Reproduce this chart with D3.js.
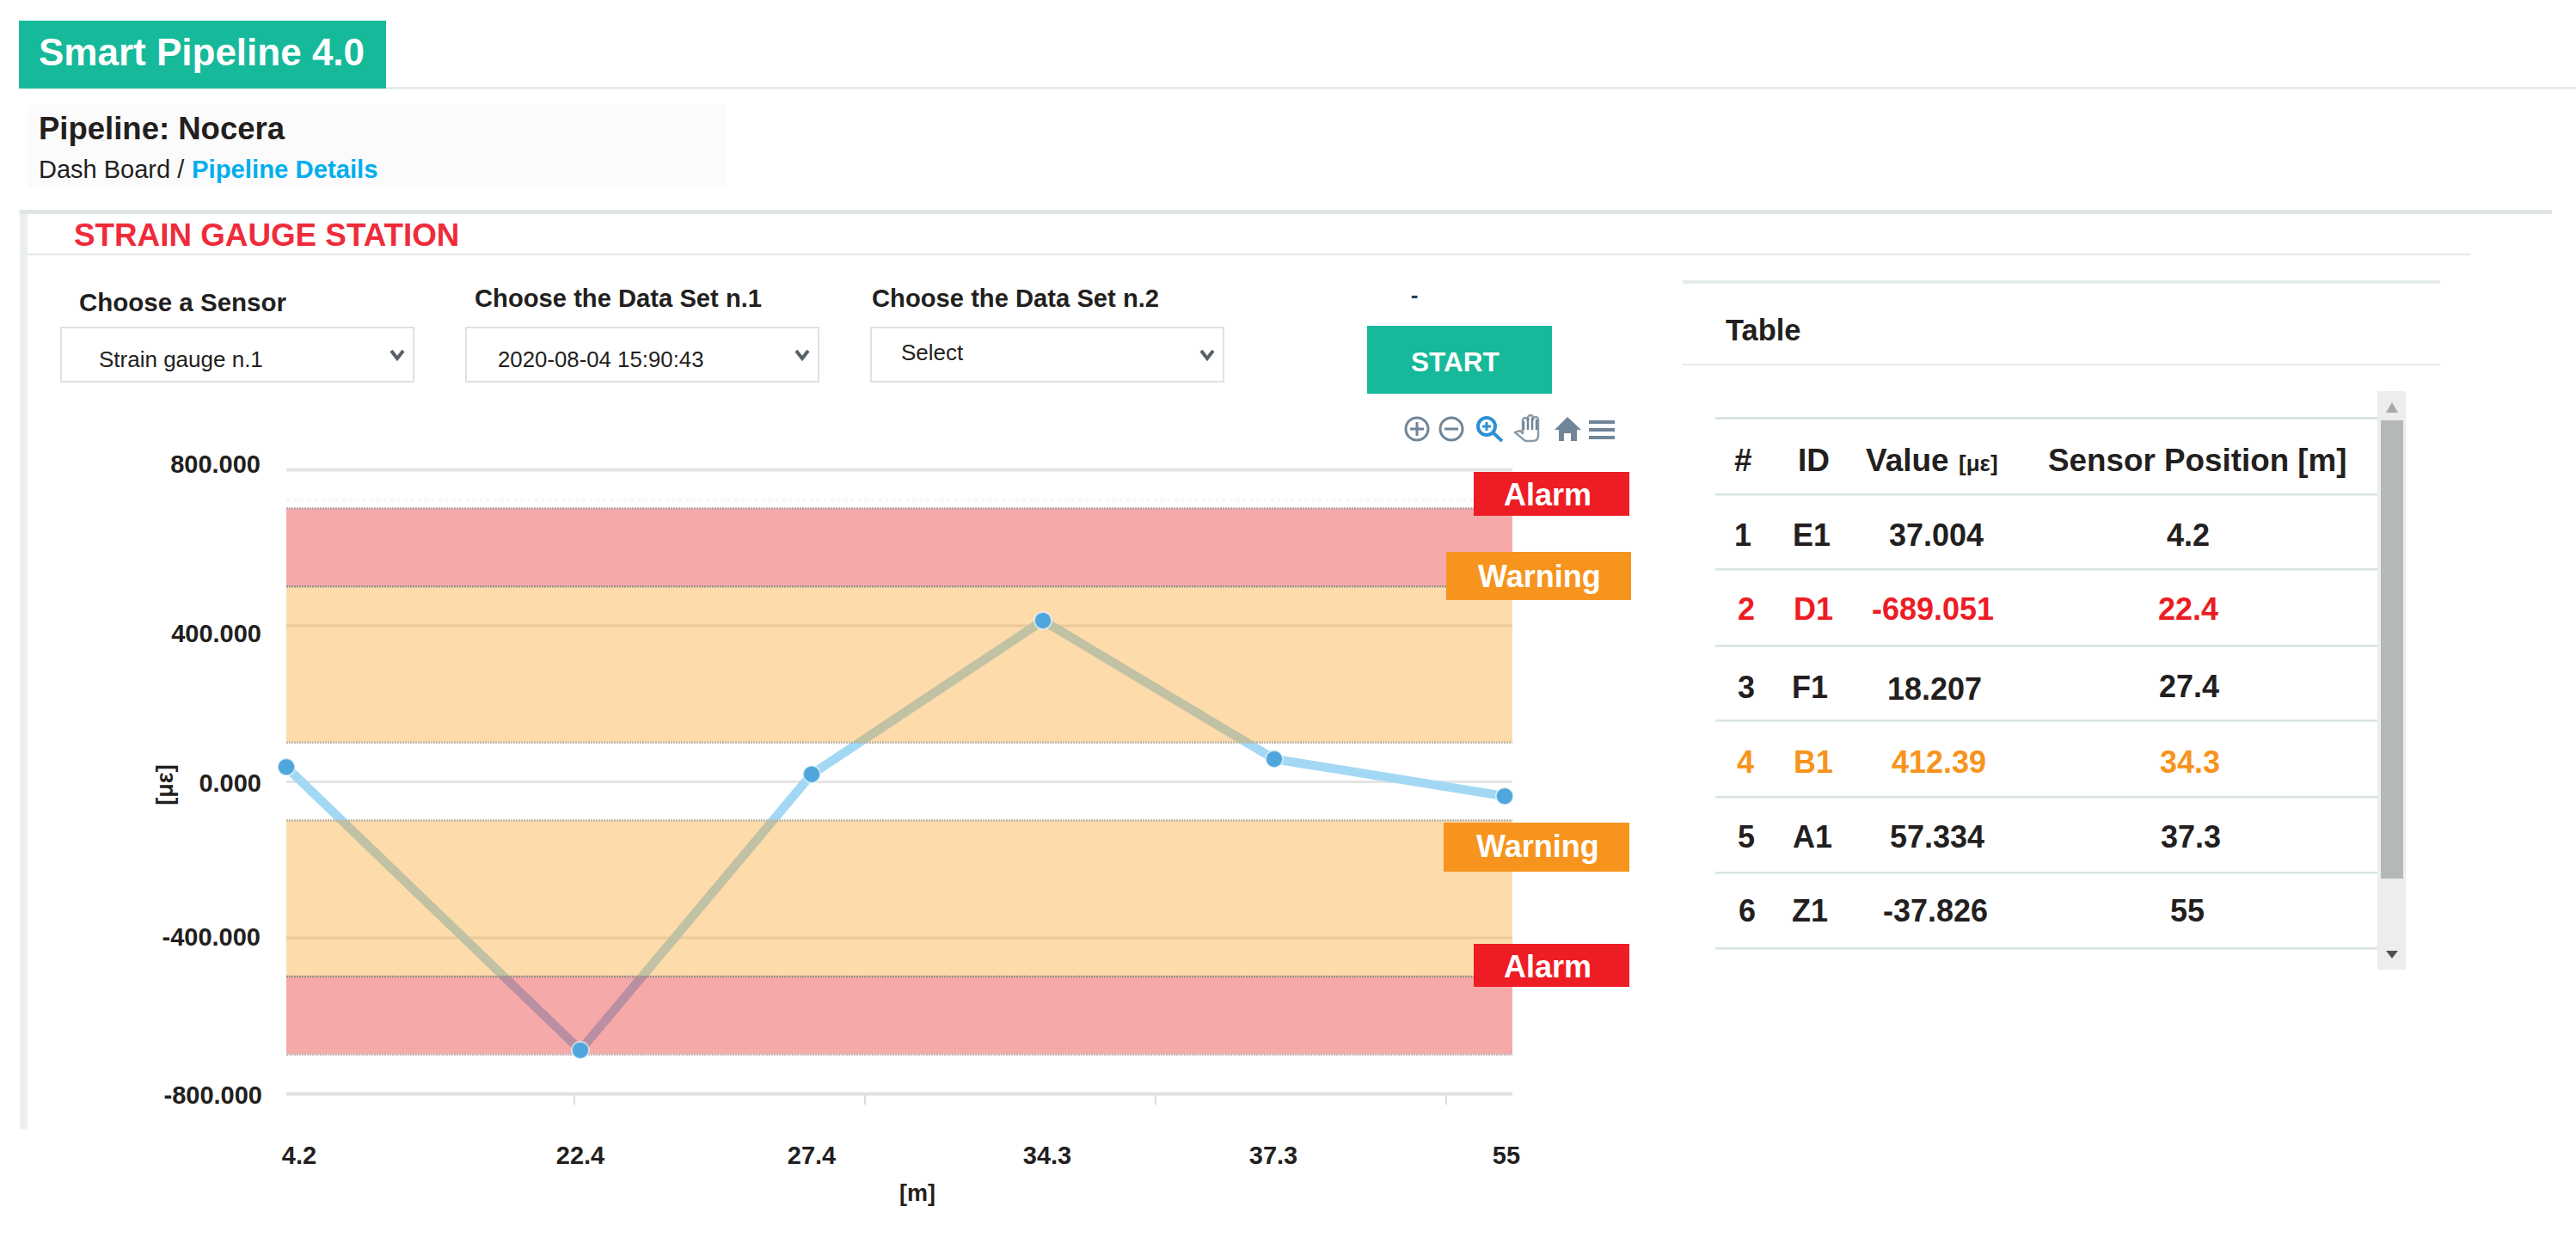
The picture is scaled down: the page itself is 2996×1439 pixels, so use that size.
<!DOCTYPE html>
<html><head><meta charset="utf-8">
<script src="https://cdn.jsdelivr.net/npm/d3@7/dist/d3.min.js"></script>
<style>html,body{margin:0;padding:0;background:#fff}svg{display:block}text{font-family:"Liberation Sans",Arial,sans-serif}</style>
</head><body><svg id="c" width="2996" height="1439"></svg>
<script>
// ---- data ----
const positions = ["4.2","22.4","27.4","34.3","37.3","55"];
const ids = ["E1","D1","F1","B1","A1","Z1"];
const strain = [37.004,-689.051,18.207,412.39,57.334,-37.826];
const valueLabels = ["37.004","-689.051","18.207","412.39","57.334","-37.826"];
const yTicks = [800,400,0,-400,-800];
const warningBands = [[100,500],[-500,-100]];
const alarmBands = [[500,700],[-700,-500]];
const selectLabels = ["Choose a Sensor","Choose the Data Set n.1","Choose the Data Set n.2"];
const selectValues = ["Strain gauge n.1","2020-08-04 15:90:43","Select"];

const svg = d3.select("#c");
const DARK="#231f20", TEAL="#16b99a", RED="#ed1c24", ORANGE="#f7941d", RULE="#e5ebeb";
const rect=(x,y,w,h,f,p=svg)=>p.append("rect").attr("x",x).attr("y",y).attr("width",w).attr("height",h).attr("fill",f);
const txt=(x,y,s,size,fill,weight="bold",anchor="start",p=svg)=>p.append("text").attr("x",x).attr("y",y).attr("font-size",size).attr("fill",fill).attr("font-weight",weight).attr("text-anchor",anchor).text(s);

// header
rect(449,101,2547,3,RULE);
rect(22,24,427,79,TEAL);
txt(45,76,"Smart Pipeline 4.0",44,"#fff");
rect(32,122,813,96,"#fbfbfb");
txt(45,162,"Pipeline: Nocera",36.5,DARK);
txt(45,207,"Dash Board / ",29,DARK,"normal");
txt(223,207,"Pipeline Details",29.3,"#00aeef");

// main panel frame
rect(23,244,9,1069,"#ebeff0");
rect(23,244,2945,5,"#e0e4e7");
txt(86,286,"STRAIN GAUGE STATION",36.8,"#ef2b3a");
rect(32,295,2841,2,"#e2e6e6");

// selectors
const selX=[71,542,1013], labX=[92,552,1014], labY=[362,357,357], valX=[115,579,1048], valY=[427,427,419], chevX=[462,933,1404];
selectLabels.forEach((s,i)=>{
  txt(labX[i],labY[i],s,i?29.2:29.5,DARK);
  rect(selX[i],381,410,63,"#fff").attr("stroke","#dfe2e2").attr("stroke-width",2);
  txt(valX[i],valY[i],selectValues[i],i===1?25.8:26,DARK,"normal");
  svg.append("path").attr("d",d3.line()([[chevX[i]-7,408],[chevX[i],417],[chevX[i]+7,408]])).attr("fill","none").attr("stroke","#5a6166").attr("stroke-width",4);
});
txt(1645,352,"-",26,"#2c3a55","bold","middle");
rect(1590,379,215,79,TEAL);
txt(1641,432,"START",31.5,"#fff");

// toolbar
const tb=svg.append("g").attr("fill","none").attr("stroke","#6f8598").attr("stroke-width",3);
[[1648,1],[1688,0]].forEach(([cx,plus])=>{
  tb.append("circle").attr("cx",cx).attr("cy",499).attr("r",13);
  tb.append("path").attr("d",`M${cx-8} 499H${cx+8}`+(plus?`M${cx} 491V507`:""));
});
const zg=svg.append("g").attr("fill","none").attr("stroke","#2f8fd6").attr("stroke-width",4);
zg.append("circle").attr("cx",1729).attr("cy",496).attr("r",10);
zg.append("path").attr("d","M1736 503L1747 513");
zg.append("path").attr("stroke-width",3).attr("d","M1724 496H1734M1729 491V501");
// hand
svg.append("path").attr("fill","#fff").attr("stroke","#8b9cab").attr("stroke-width",2.5).attr("stroke-linejoin","round")
  .attr("d","M1762 503L1768 501L1771 504V489A3 3 0 0 1 1777 489V486A3 3 0 0 1 1783 486V488A3 3 0 0 1 1789 488V506Q1789 513 1783 513H1774Z");
svg.append("path").attr("fill","none").attr("stroke","#6f8598").attr("stroke-width",2.5)
  .attr("d","M1772 490V500M1777 486V500M1782 486V500M1787 488V500");
svg.append("path").attr("fill","#6f8598").attr("d","M1808 500L1823 485L1839 500H1834V513H1827V504H1819V513H1813V500Z");
[491,500,509].forEach(y=>rect(1848,y-2,30,4,"#6f8598"));

// ---- chart ----
const yScale=d3.scaleLinear().domain([-800,800]).range([1272,546]);
const plotL=333, plotR=1759;
// unevenly spaced category slots, as in the dashboard
const xScale=d3.scaleLinear().domain(d3.range(positions.length)).range([333,675,944,1213,1482,1750]);
const chart=svg.append("g");

// gridlines + axes
const yAxis=d3.axisLeft(yScale).tickValues(yTicks).tickFormat(d=>d.toFixed(3)).tickSize(-(plotR-plotL)).tickPadding(0);
const yg=chart.append("g").attr("transform",`translate(${plotL},0)`).call(yAxis);
yg.select(".domain").remove();
yg.selectAll(".tick line").attr("stroke",d=>d===-800?"#e0e0e0":"#e4e4e4").attr("stroke-width",d=>Math.abs(d)===800?4:3);
const yLabelDy={800:3,400:19,0:11,"-400":9,"-800":11}, yLabelX={800:303,400:304,0:304,"-400":303,"-800":305};
yg.selectAll(".tick text").attr("x",d=>yLabelX[d]-plotL).attr("dy",d=>yLabelDy[d]).attr("y",0)
  .attr("font-size",29).attr("font-weight","bold").attr("fill",DARK).attr("font-family",'"Liberation Sans"');

// x axis: even tick marks, hand-placed labels
const xAxisG=chart.append("g");
[668,1006,1344,1682].forEach(x=>rect(x-1,1274,2,11,"#dcdcdc",xAxisG));
const xLabelX=[348,675,944,1218,1481,1752];
chart.selectAll(".xl").data(positions).join("text").attr("class","xl")
  .attr("x",(d,i)=>xLabelX[i]).attr("y",1354).attr("text-anchor","middle").attr("font-size",29).attr("font-weight","bold").attr("fill",DARK).text(d=>d);
txt(1067,1397,"[m]",27,DARK,"bold","middle");
txt(0,0,"[με]",27,DARK,"bold","middle").attr("transform","translate(201,913) rotate(-90)");

// faint dotted trace above the top band
chart.append("line").attr("x1",plotL).attr("x2",1714).attr("y1",582).attr("y2",582).attr("stroke","#f8f8f8").attr("stroke-width",4).attr("stroke-dasharray","5 3");

// series line under translucent bands
const lineGen=d3.line().x((d,i)=>xScale(i)).y(d=>yScale(d));
chart.append("path").datum(strain).attr("d",lineGen).attr("fill","none").attr("stroke","#a3d8f5").attr("stroke-width",10.5);

// bands
const bandRect=(b,col,a)=>chart.append("rect").attr("x",plotL).attr("width",plotR-plotL)
  .attr("y",yScale(b[1])).attr("height",yScale(b[0])-yScale(b[1])).attr("fill",col).attr("fill-opacity",a);
warningBands.forEach(b=>bandRect(b,"#f9980f",.35));
alarmBands.forEach(b=>bandRect(b,"#e50909",.35));
const bandEdge=(v,col)=>chart.append("line").attr("x1",plotL).attr("x2",plotR).attr("y1",yScale(v)).attr("y2",yScale(v)).attr("stroke",col).attr("stroke-width",2.5).attr("stroke-dasharray","2 1");
[[700,"#b8a6a6"],[500,"#9c9088"],[100,"#bdb5a8"],[-100,"#bdb5a8"],[-500,"#9c9088"],[-700,"#c4bcbc"]].forEach(([v,c])=>bandEdge(v,c));

// points
chart.selectAll(".pt").data(strain).join("circle").attr("class","pt")
  .attr("cx",(d,i)=>xScale(i)).attr("cy",d=>yScale(d)).attr("r",10).attr("fill","#4ea6dc").attr("stroke","#fff").attr("stroke-opacity",.55).attr("stroke-width",2);

// badges
const badge=(x,y,w,h,f,s,tx,ty)=>{rect(x,y,w,h,f);txt(tx,ty,s,36,"#fff");};
badge(1714,549,181,51,"#ee1c25","Alarm",1749,588);
badge(1682,642,215,56,ORANGE,"Warning",1719,683);
badge(1679,957,216,57,ORANGE,"Warning",1717,997);
badge(1714,1098,181,50,"#ee1c25","Alarm",1749,1137);

// ---- table panel ----
rect(1957,326,881,4,RULE);
txt(2007,396,"Table",34.5,DARK);
rect(1957,423,881,2,RULE);
const rowRules=[486,575,662,751,838,927,1015,1103];
rowRules.forEach(y=>rect(1995,y-1,770,y===486?3:2.5,"#d9e3e5"));
txt(2017,548,"#",37,DARK);
txt(2091,548,"ID",37,DARK);
txt(2170,548,"Value",37,DARK);
txt(2278,548,"[με]",26,DARK);
txt(2382,548,"Sensor Position [m]",36.8,DARK);
const rowY=[635,721,812,899,986,1072];
const colHash=[2027,2031,2031,2030,2031,2032], colId=[2107,2109,2105,2109,2108,2105];
const colVal=[2252,2248,2250,2255,2253,2251], colPos=[2545,2545,2546,2547,2548,2544];
const rowColor=[DARK,RED,DARK,"#f7941d",DARK,DARK];
const rows=svg.selectAll(".r").data(positions).join("g").attr("class","r")
  .attr("fill",(d,i)=>rowColor[i]).attr("font-size",36).attr("font-weight","bold").attr("text-anchor","middle");
rows.append("text").attr("x",(d,i)=>colHash[i]).attr("y",(d,i)=>rowY[i]).text((d,i)=>i+1);
rows.append("text").attr("x",(d,i)=>colId[i]).attr("y",(d,i)=>rowY[i]).text((d,i)=>ids[i]);
rows.append("text").attr("x",(d,i)=>colVal[i]).attr("y",(d,i)=>rowY[i]+(i===2?2:0)).text((d,i)=>valueLabels[i]);
rows.append("text").attr("x",(d,i)=>colPos[i]).attr("y",(d,i)=>rowY[i]-(i===2?1:0)).text(d=>d);

// scrollbar
rect(2765,455,33,673,"#ededed");
rect(2769,489,26,533,"#b5b8b8");
svg.append("path").attr("d","M2782 468L2789 480H2775Z").attr("fill","#a9a9a9");
svg.append("path").attr("d","M2775 1106H2789L2782 1115Z").attr("fill","#505050");
</script></body></html>
